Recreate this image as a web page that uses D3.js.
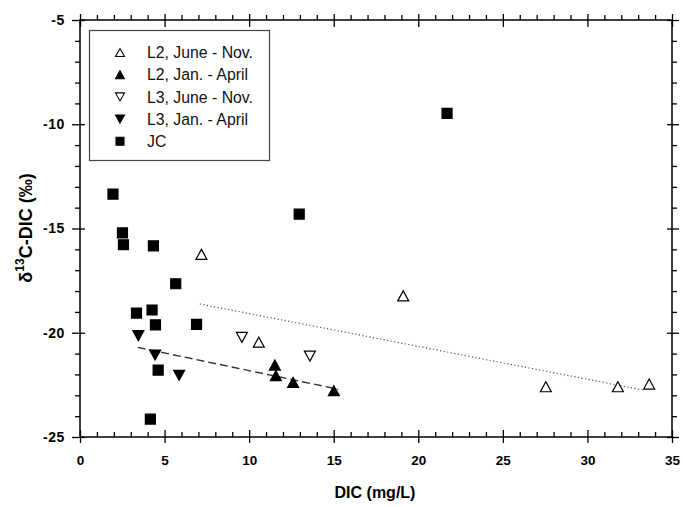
<!DOCTYPE html>
<html>
<head>
<meta charset="utf-8">
<script src="https://cdn.jsdelivr.net/npm/d3@7"></script>
<style>
	body { margin: 0; background: #fff; }
	text { font-family: "Liberation Sans", Arial, sans-serif; }
</style>
</head>
<body>
<svg id="chart" width="683" height="507"></svg>
<script>
// series (DIC mg/L, d13C permil)
const l2SummerX = [7.18, 10.57, 19.11, 27.54, 31.8, 33.65];
const l2SummerY = [-16.24, -20.45, -18.23, -22.59, -22.59, -22.46];
const l2WinterX = [11.52, 11.58, 12.6, 15.01];
const l2WinterY = [-21.55, -22.06, -22.38, -22.78];
const l3SummerX = [9.57, 13.59];
const l3SummerY = [-20.22, -21.12];
const l3WinterX = [3.45, 4.44, 5.86];
const l3WinterY = [-20.14, -21.07, -22.04];
const jcX = [1.95, 2.51, 2.57, 4.34, 12.96, 5.66, 3.34, 4.26, 4.46, 6.89, 4.62, 4.16, 21.7];
const jcY = [-13.35, -15.21, -15.78, -15.83, -14.31, -17.65, -19.06, -18.91, -19.62, -19.6, -21.79, -24.14, -9.48];

// regression lines, end points
const dashFitX = [3.41, 15.27];
const dashFitY = [-20.7, -22.71];
const dotFitX = [7.08, 33.3];
const dotFitY = [-18.62, -22.75];

const xTicks = [0, 5, 10, 15, 20, 25, 30, 35];
const yTicks = [-25, -20, -15, -10, -5];
const legendLabels = ['L2, June - Nov.', 'L2, Jan. - April', 'L3, June - Nov.', 'L3, Jan. - April', 'JC'];

const plotL = 80, plotR = 672, plotT = 20, plotB = 437;

const svg = d3.select('#chart');
const x = d3.scaleLinear().domain([0, 35]).range([plotL, plotR]);
const y = d3.scaleLinear().domain([-25, -5]).range([plotB, plotT]);

// triangle centred on its box
function tri(w, h, down) {
	const s = down ? -1 : 1;
	return `M0,${-s * h / 2}L${w / 2},${s * h / 2}L${-w / 2},${s * h / 2}Z`;
}
const sq = s => `M${-s / 2},${-s / 2}h${s}v${s}h${-s}Z`;

const styles = [
	{ d: tri(11, 10, false), fill: '#fff' },
	{ d: tri(11, 10, false), fill: '#000' },
	{ d: tri(11, 10, true), fill: '#fff' },
	{ d: tri(11, 10, true), fill: '#000' },
	{ d: sq(10), fill: '#000' }
];
const series = [
	[l2SummerX, l2SummerY],
	[l2WinterX, l2WinterY],
	[l3SummerX, l3SummerY],
	[l3WinterX, l3WinterY],
	[jcX, jcY]
];

// axes
function styleAxis(g) {
	g.select('.domain').remove();
	g.selectAll('line').attr('stroke', '#000').attr('stroke-width', 1.3);
}

const minorX = d3.range(0, 36, 1).filter(v => v % 5 !== 0);
const minorY = d3.range(-25, -4, 1).filter(v => v % 5 !== 0);

svg.append('g').attr('transform', `translate(0,${plotB})`)
	.call(d3.axisBottom(x).tickValues(minorX).tickFormat('').tickSize(-5)).call(styleAxis);
svg.append('g').attr('transform', `translate(0,${plotT})`)
	.call(d3.axisTop(x).tickValues(minorX).tickFormat('').tickSize(5)).call(styleAxis);
svg.append('g').attr('transform', `translate(${plotL},0)`)
	.call(d3.axisLeft(y).tickValues(minorY).tickFormat('').tickSize(5)).call(styleAxis);
svg.append('g').attr('transform', `translate(${plotR},0)`)
	.call(d3.axisRight(y).tickValues(minorY).tickFormat('').tickSize(5)).call(styleAxis);

const xAxis = svg.append('g').attr('transform', `translate(0,${plotB})`)
	.call(d3.axisBottom(x).tickValues(xTicks).tickFormat(d3.format('d')).tickSize(6).tickPadding(12))
	.call(styleAxis);
xAxis.selectAll('.tick line').attr('y1', -7).attr('y2', 6);
xAxis.selectAll('text').attr('font-size', 13.5).attr('font-weight', 'bold').attr('fill', '#000');

svg.append('g').attr('transform', `translate(0,${plotT})`)
	.call(d3.axisTop(x).tickValues(xTicks).tickFormat('').tickSize(6)).call(styleAxis)
	.selectAll('.tick line').attr('y1', 7).attr('y2', -6);

const yAxis = svg.append('g').attr('transform', `translate(${plotL},0)`)
	.call(d3.axisLeft(y).tickValues(yTicks).tickFormat(d => d3.format('d')(d).replace('−', '-')).tickSize(8).tickPadding(7))
	.call(styleAxis);
yAxis.selectAll('.tick line').attr('x1', -8).attr('x2', 5);
yAxis.selectAll('text').attr('font-size', 14).attr('font-weight', 'bold').attr('fill', '#000')
	.attr('letter-spacing', 0.6);

svg.append('g').attr('transform', `translate(${plotR},0)`)
	.call(d3.axisRight(y).tickValues(yTicks).tickFormat('').tickSize(7)).call(styleAxis)
	.selectAll('.tick line').attr('x1', -5).attr('x2', 7);

svg.append('rect')
	.attr('x', plotL).attr('y', plotT)
	.attr('width', plotR - plotL).attr('height', plotB - plotT)
	.attr('fill', 'none').attr('stroke', '#000').attr('stroke-width', 1.5);

// fit lines
const line = d3.line().x(d => x(d[0])).y(d => y(d[1]));
svg.append('path')
	.attr('d', line(d3.zip(dashFitX, dashFitY)))
	.attr('stroke', '#333').attr('stroke-width', 1.4).attr('stroke-dasharray', '8,4').attr('fill', 'none');
svg.append('path')
	.attr('d', line(d3.zip(dotFitX, dotFitY)))
	.attr('stroke', '#555').attr('stroke-width', 1.2).attr('stroke-dasharray', '1.2,2.4').attr('fill', 'none');

// points
series.forEach((s, i) => {
	svg.append('g').selectAll('path')
		.data(d3.zip(s[0], s[1]))
		.enter()
		.append('path')
		.attr('transform', d => `translate(${x(d[0])},${y(d[1])})`)
		.attr('d', styles[i].d)
		.attr('fill', styles[i].fill)
		.attr('stroke', '#000')
		.attr('stroke-width', 1.2);
});

// legend
const legend = svg.append('g');
legend.append('rect')
	.attr('x', 89.5).attr('y', 30.5).attr('width', 180).attr('height', 130)
	.attr('fill', '#fff').attr('stroke', '#444').attr('stroke-width', 1.2);
const item = legend.selectAll('g.item')
	.data(legendLabels)
	.enter()
	.append('g')
	.attr('class', 'item')
	.attr('transform', (d, i) => `translate(120,${52.5 + i * 22.2})`);
item.append('path')
	.attr('d', (d, i) => i === 4 ? sq(8) : tri(9, 8, i >= 2))
	.attr('fill', (d, i) => styles[i].fill)
	.attr('stroke', '#000').attr('stroke-width', 1.1);
item.append('text')
	.attr('x', 27).attr('dy', '0.36em')
	.attr('font-size', 15.8).attr('fill', '#111')
	.text(d => d);

// axis titles
svg.append('text')
	.attr('x', 375).attr('y', 498)
	.attr('text-anchor', 'middle')
	.attr('font-size', 16).attr('font-weight', 'bold')
	.text('DIC (mg/L)');

const yTitle = svg.append('text')
	.attr('transform', 'translate(32,228) rotate(-90)')
	.attr('text-anchor', 'middle')
	.attr('font-size', 18).attr('font-weight', 'bold');
yTitle.append('tspan').text('δ');
yTitle.append('tspan').attr('font-size', 12).attr('dy', -8).text('13');
yTitle.append('tspan').attr('dy', 8).text('C-DIC (‰)');
</script>
</body>
</html>
